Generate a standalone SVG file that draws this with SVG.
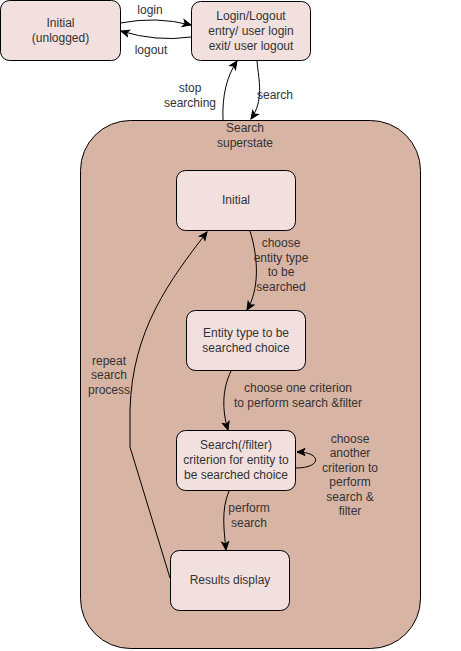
<svg xmlns="http://www.w3.org/2000/svg" width="461" height="651" viewBox="0 0 461 651">
  <style>
    .node { fill: #f2e0df; stroke: #000; stroke-width: 1; }
    .super { fill: #d8b4a5; stroke: #000; stroke-width: 1; }
    .lbl { font-family: "Liberation Sans", Arial, sans-serif; font-size: 12px; fill: #333; text-anchor: middle; }
    .edge { fill: none; stroke: #000; stroke-width: 1; marker-end: url(#arrow); }
  </style>
  <defs>
    <marker id="arrow" markerUnits="userSpaceOnUse" markerWidth="10" markerHeight="10" viewBox="0 0 10 10" refX="9" refY="5" orient="auto">
      <path d="M1,1.5 L9,5 L1,8.5 L3,5 Z" fill="#000" stroke="#000" stroke-width="1"/>
    </marker>
  </defs>
  <rect width="461" height="651" fill="#fff"/>

  <g id="initial-unlogged">
    <rect class="node" x="0.5" y="0.5" width="120" height="60" rx="9"/>
    <text class="lbl" x="60.5" y="27">Initial</text>
    <text class="lbl" x="60.5" y="42">(unlogged)</text>
  </g>

  <g id="login-logout">
    <rect class="node" x="191.5" y="1.5" width="119" height="59" rx="9"/>
    <text class="lbl" x="251" y="20">Login/Logout</text>
    <text class="lbl" x="251" y="35">entry/ user login</text>
    <text class="lbl" x="251" y="50">exit/ user logout</text>
  </g>

  <g id="search-superstate">
    <rect class="super" x="80.5" y="120.5" width="340" height="528" rx="50"/>
    <text class="lbl" x="245" y="132">Search</text>
    <text class="lbl" x="245" y="147">superstate</text>
  </g>

  <g id="search-initial">
    <rect class="node" x="176.5" y="170.5" width="119" height="60" rx="9"/>
    <text class="lbl" x="236" y="204">Initial</text>
  </g>

  <g id="entity-type-choice">
    <rect class="node" x="186.5" y="310.5" width="119" height="60" rx="9"/>
    <text class="lbl" x="246" y="337">Entity type to be</text>
    <text class="lbl" x="246" y="352">searched choice</text>
  </g>

  <g id="criterion-choice">
    <rect class="node" x="176.5" y="430.5" width="119" height="60" rx="9"/>
    <text class="lbl" x="236" y="449">Search(/filter)</text>
    <text class="lbl" x="236" y="464">criterion for entity to</text>
    <text class="lbl" x="236" y="479">be searched choice</text>
  </g>

  <g id="results-display">
    <rect class="node" x="170.5" y="550.5" width="119" height="60" rx="9"/>
    <text class="lbl" x="230" y="584">Results display</text>
  </g>

  <g id="connectors">
    <path class="edge" d="M120.5,23 Q156,16 191,25"/>
    <text class="lbl" x="150" y="14">login</text>

    <path class="edge" d="M191,37 Q156,42 121,31"/>
    <text class="lbl" x="151" y="54">logout</text>

    <path class="edge" d="M223,120 C222,95 227,76 237,61"/>
    <text class="lbl" x="190" y="92">stop</text>
    <text class="lbl" x="190" y="107">searching</text>

    <path class="edge" d="M257,61 C259,82 264,100 251,119"/>
    <text class="lbl" x="275" y="99">search</text>

    <path class="edge" d="M250,231 C259,260 259,290 247,310"/>
    <text class="lbl" x="281" y="247">choose</text>
    <text class="lbl" x="281" y="262">entity type</text>
    <text class="lbl" x="281" y="276">to be</text>
    <text class="lbl" x="281" y="291">searched</text>

    <path class="edge" d="M231,371 C222,390 222,410 228,430"/>
    <text class="lbl" x="298" y="392">choose one criterion</text>
    <text class="lbl" x="298" y="407">to perform search &amp;filter</text>

    <path class="edge" d="M296,468 C322,468 322,452 297,452"/>
    <text class="lbl" x="350" y="443">choose</text>
    <text class="lbl" x="350" y="457">another</text>
    <text class="lbl" x="350" y="472">criterion to</text>
    <text class="lbl" x="350" y="486">perform</text>
    <text class="lbl" x="350" y="501">search &amp;</text>
    <text class="lbl" x="350" y="515">filter</text>

    <path class="edge" d="M229,491 C221,510 224,530 226,550"/>
    <text class="lbl" x="249" y="512">perform</text>
    <text class="lbl" x="249" y="527">search</text>

    <path class="edge" d="M170,578 L130,447 L130,410 C132,330 170,280 207,232"/>
    <text class="lbl" x="109" y="365">repeat</text>
    <text class="lbl" x="109" y="379">search</text>
    <text class="lbl" x="109" y="394">process</text>
  </g>
</svg>
